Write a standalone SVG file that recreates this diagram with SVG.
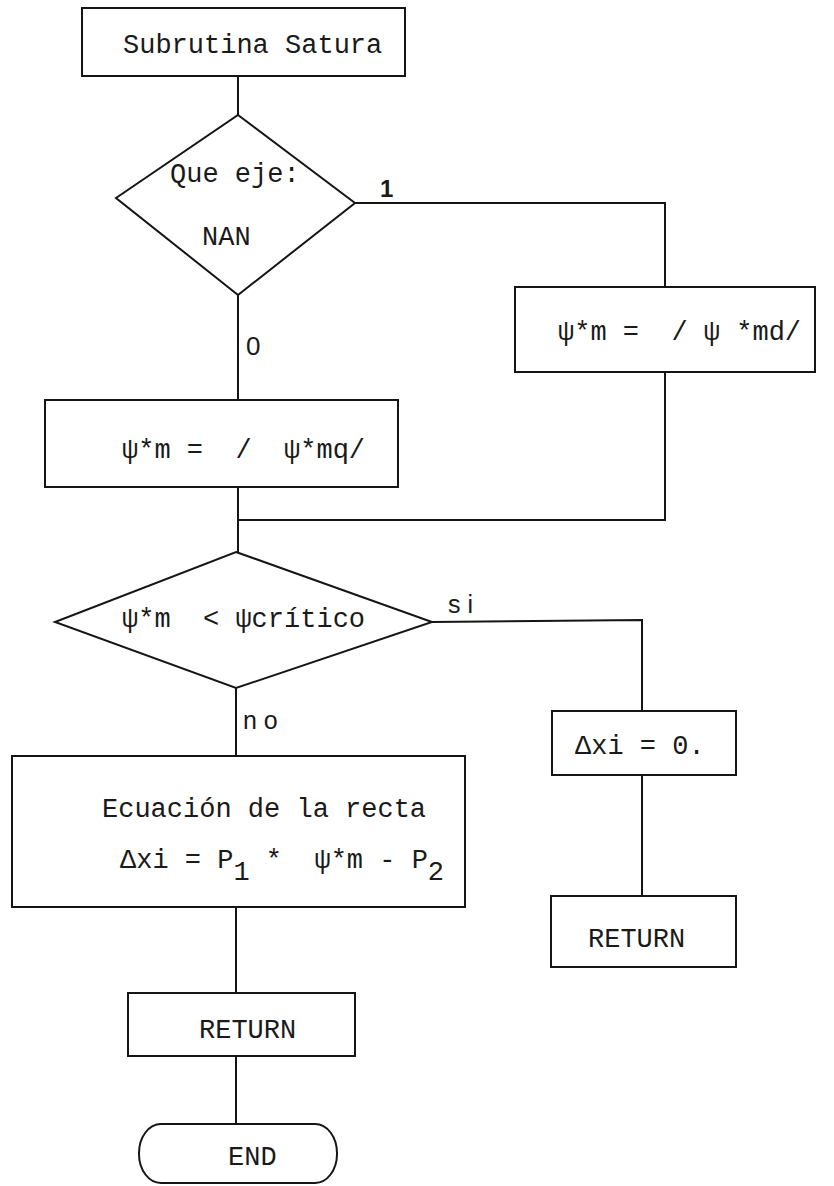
<svg xmlns="http://www.w3.org/2000/svg" width="834" height="1186" viewBox="0 0 834 1186">
  <style>
    .shape { fill: none; stroke: #151515; stroke-width: 2; }
    .wire { fill: none; stroke: #151515; stroke-width: 2; }
    .tt { font-family: "Liberation Mono", "DejaVu Sans Mono", monospace; font-size: 27px; fill: #1a1a1a; }
    .lbl { font-family: "Liberation Sans", Arial, sans-serif; font-size: 25px; fill: #1a1a1a; }
  </style>
  <rect width="834" height="1186" fill="#ffffff"/>

  <!-- connectors -->
  <g id="connectors" class="wire">
    <path d="M238 76 V115"/>
    <path d="M355 203 H665 V287"/>
    <path d="M238 295 V400"/>
    <path d="M665 372 V520 H238"/>
    <path d="M238 487 V552"/>
    <path d="M432 622 L642 620 V711"/>
    <path d="M642 775 V896"/>
    <path d="M236 688 V756"/>
    <path d="M236 907 V993"/>
    <path d="M236 1056 V1124"/>
  </g>

  <!-- branch labels -->
  <g id="labels" class="lbl">
    <text x="380" y="197" font-size="24" font-weight="bold">1</text>
    <text x="246" y="355" font-size="26">0</text>
    <text x="448" y="613">s i</text>
    <text x="243" y="729">n o</text>
  </g>

  <g id="start">
    <rect class="shape" x="82" y="8" width="323" height="68"/>
    <text class="tt" x="123" y="53">Subrutina Satura</text>
  </g>

  <g id="axis-decision">
    <polygon class="shape" points="238,115 355,203 238,295 116,198"/>
    <text class="tt" x="170" y="182">Que eje:</text>
    <text class="tt" x="202" y="245">NAN</text>
  </g>

  <g id="psi-md">
    <rect class="shape" x="515" y="287" width="300" height="85"/>
    <text class="tt" x="558" y="340" xml:space="preserve">ψ*m =  / ψ *md/</text>
  </g>

  <g id="psi-mq">
    <rect class="shape" x="45" y="400" width="353" height="87"/>
    <text class="tt" x="122" y="458" xml:space="preserve">ψ*m =  /  ψ*mq/</text>
  </g>

  <g id="critical-decision">
    <polygon class="shape" points="236,552 432,622 236,688 55,622"/>
    <text class="tt" x="122" y="627" xml:space="preserve">ψ*m  &lt; ψcrítico</text>
  </g>

  <g id="delta-zero">
    <rect class="shape" x="552" y="711" width="184" height="64"/>
    <text class="tt" x="575" y="754">Δxi = 0.</text>
  </g>

  <g id="return-right">
    <rect class="shape" x="551" y="896" width="185" height="71"/>
    <text class="tt" x="588" y="947">RETURN</text>
  </g>

  <g id="line-equation">
    <rect class="shape" x="12" y="756" width="453" height="151"/>
    <text class="tt" x="102" y="817">Ecuación de la recta</text>
    <text class="tt" x="120" y="868" xml:space="preserve">Δxi = P<tspan dy="12">1</tspan><tspan dy="-12"> *  ψ*m - P</tspan><tspan dy="12">2</tspan></text>
  </g>

  <g id="return-left">
    <rect class="shape" x="128" y="993" width="227" height="63"/>
    <text class="tt" x="199" y="1038">RETURN</text>
  </g>

  <g id="end">
    <rect class="shape" x="139" y="1124" width="198" height="59" rx="22" ry="29"/>
    <text class="tt" x="228" y="1165">END</text>
  </g>
</svg>
